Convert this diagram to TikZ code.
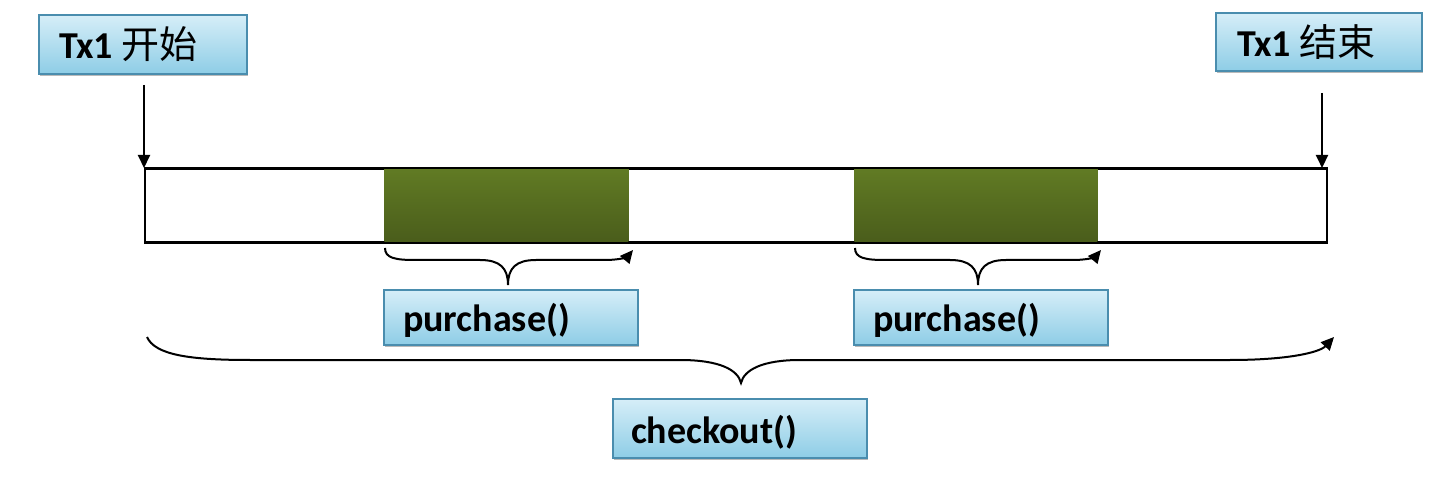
\documentclass[tikz,border=0pt]{standalone}
\usepackage{fontspec}
\setmainfont{Carlito}
\newfontfamily\cjk{Noto Sans CJK SC}
\usetikzlibrary{arrows.meta,shadows}
\definecolor{boxtop}{HTML}{D6EEF8}
\definecolor{boxbot}{HTML}{8ECDE6}
\definecolor{boxline}{HTML}{4A8DAE}
\definecolor{greentop}{HTML}{617B24}
\definecolor{greenbot}{HTML}{4A5D1B}
\tikzset{
  label box/.style={draw=boxline, line width=0.8pt, top color=boxtop, bottom color=boxbot,
    rectangle, anchor=north west, inner sep=0pt,
    drop shadow={shadow xshift=0.8pt, shadow yshift=-1.2pt, fill=black!45, opacity=0.6}},
  label text/.style={anchor=west, font=\fontsize{19}{22}\selectfont\bfseries},
  green block/.style={top color=greentop, bottom color=greenbot, draw=none, anchor=north west, inner sep=0pt},
  arr/.style={-{Triangle[length=6.5pt,width=6pt]}, line width=1pt},
  bracepath/.style={line width=1pt, -{Triangle[length=6.5pt,width=6pt]}},
}
\begin{document}
\begin{tikzpicture}[x=0.5pt,y=-0.5pt]
\useasboundingbox (0,0) rectangle (1454,480);
% label boxes
\node[label box, minimum width=104pt, minimum height=29.5pt] (start) at (38,14) {};
\node[label text] (starttxt) at (52,44) {Tx1 {\cjk\mdseries 开始}};
\node[label box, minimum width=103pt, minimum height=29pt] (end) at (1215,12) {};
\node[label text] (endtxt) at (1230,42) {Tx1 {\cjk\mdseries 结束}};
\node[label box, minimum width=127pt, minimum height=27.5pt] (p1) at (383,289) {};
\node[label text] (p1txt) at (396,320) {purchase()};
\node[label box, minimum width=127pt, minimum height=27.5pt] (p2) at (853,289) {};
\node[label text] (p2txt) at (866,320) {purchase()};
\node[label box, minimum width=127pt, minimum height=29.5pt] (co) at (612,398) {};
\node[label text] (cotxt) at (624,432) {checkout()};
% bar
\node[draw=black, line width=1pt, fill=white, anchor=north west, minimum width=591pt, minimum height=36.5pt, inner sep=0pt] (bar) at (144,168) {};
\node[green block, minimum width=122pt, minimum height=36.5pt] (g1) at (384,168) {};
\node[green block, minimum width=121.5pt, minimum height=36.5pt] (g2) at (854,168) {};
\draw[line width=1pt] (bar.north west) -- (bar.north east) (bar.south west) -- (bar.south east);
% arrows
\coordinate (a1) at (144,85);
\coordinate (a2) at (1322,93);
\draw[arr] (a1) -- (a1 |- bar.north);
\draw[arr] (a2) -- (a2 |- bar.north);
% small braces
\coordinate (b1s) at (385,248); \coordinate (b1c) at (508,285); \coordinate (b1e) at (633,250);
\draw[bracepath] (b1s) .. controls (385,258) and (395,260) .. (415,260) -- (480,260)
  .. controls (500,260) and (508,268) .. (b1c)
  .. controls (508,268) and (516,260) .. (536,260) -- (605,260)
  .. controls (622,260) and (628,256) .. (b1e);
\coordinate (b2s) at (855,248); \coordinate (b2c) at (978,285); \coordinate (b2e) at (1101,250);
\draw[bracepath] (b2s) .. controls (855,258) and (865,260) .. (885,260) -- (950,260)
  .. controls (970,260) and (978,268) .. (b2c)
  .. controls (978,268) and (986,260) .. (1006,260) -- (1073,260)
  .. controls (1090,260) and (1096,256) .. (b2e);
% big brace
\coordinate (bbs) at (147,337); \coordinate (bbc) at (741,383); \coordinate (bbe) at (1334,337);
\draw[bracepath] (bbs) .. controls (155,355) and (190,360) .. (250,360) -- (680,360)
  .. controls (720,360) and (738,370) .. (bbc)
  .. controls (744,370) and (762,360) .. (800,360) -- (1230,360)
  .. controls (1290,360) and (1320,352) .. (bbe);
\end{tikzpicture}
\end{document}
